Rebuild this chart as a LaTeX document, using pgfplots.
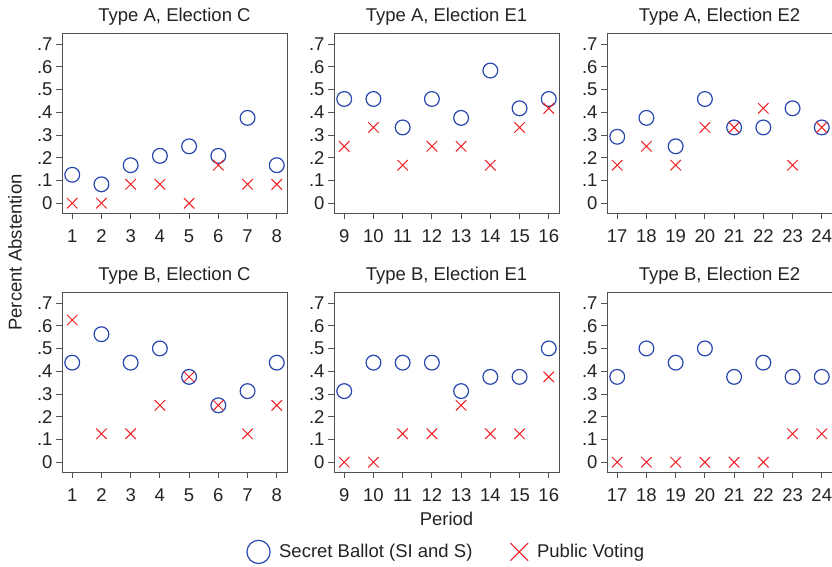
\documentclass[border=0pt]{standalone}
\usepackage{pgfplots}
\usepackage{pgfplotstable}
\pgfplotsset{compat=1.18}
\usepackage{fontspec}
\setmainfont{Liberation Sans}
\definecolor{sb}{RGB}{40,70,175}
\definecolor{pv}{RGB}{240,30,35}
\definecolor{axc}{RGB}{80,80,80}
\definecolor{txt}{RGB}{35,35,35}

\pgfplotstableread{
p secret public
1 0.125 0
2 0.083 0
3 0.167 0.083
4 0.208 0.083
5 0.250 0
6 0.208 0.167
7 0.375 0.083
8 0.167 0.083
}\tAC
\pgfplotstableread{
p secret public
9  0.458 0.250
10 0.458 0.333
11 0.333 0.167
12 0.458 0.250
13 0.375 0.250
14 0.583 0.167
15 0.417 0.333
16 0.458 0.417
}\tAE
\pgfplotstableread{
p secret public
17 0.292 0.167
18 0.375 0.250
19 0.250 0.167
20 0.458 0.333
21 0.333 0.333
22 0.333 0.417
23 0.417 0.167
24 0.333 0.333
}\tAF
\pgfplotstableread{
p secret public
1 0.4375 0.625
2 0.5625 0.125
3 0.4375 0.125
4 0.5000 0.250
5 0.3750 0.375
6 0.2500 0.250
7 0.3125 0.125
8 0.4375 0.250
}\tBC
\pgfplotstableread{
p secret public
9  0.3125 0
10 0.4375 0
11 0.4375 0.125
12 0.4375 0.125
13 0.3125 0.250
14 0.3750 0.125
15 0.3750 0.125
16 0.5000 0.375
}\tBE
\pgfplotstableread{
p secret public
17 0.3750 0
18 0.5000 0
19 0.4375 0
20 0.5000 0
21 0.3750 0
22 0.4375 0
23 0.3750 0.125
24 0.3750 0.125
}\tBF

\newcommand{\tf}{\fontsize{18.5bp}{21bp}\selectfont}

\pgfplotsset{
  panel/.style={
    scale only axis, width=225bp, height=180bp,
    anchor=south west,
    ymin=-0.043, ymax=0.748,
    ytick={0,0.1,0.2,0.3,0.4,0.5,0.6,0.7},
    yticklabels={0,.1,.2,.3,.4,.5,.6,.7},
    tick align=outside, major tick length=6bp,
    xtick pos=bottom, ytick pos=left,
    axis line style={axc, line width=0.8bp},
    every tick/.style={axc, line width=0.8bp},
    tick label style={font=\tf, text=txt},
    xticklabel style={yshift=-7bp},
    /pgf/number format/assume math mode=true,
    title style={at={(0.5,1)}, anchor=base, yshift=6bp, font=\tf, text=txt},
    clip=false,
  },
  sbs/.style={only marks, mark=o, mark size=7.4bp, sb, mark options={line width=1.2bp},
    legend image code/.code={\draw[sb, line width=1.3bp, mark=o, mark size=11.6bp] plot coordinates {(12bp,0bp)};}},
  pvs/.style={only marks, mark=x, mark size=7.4bp, pv, mark options={line width=1bp},
    legend image code/.code={\draw[pv, line width=1.2bp, mark=x, mark size=12.5bp] plot coordinates {(9bp,0bp)};}},
}

\begin{document}
\begin{tikzpicture}
\path[use as bounding box] (0,0) rectangle (832bp,567bp);

\begin{axis}[panel, at={(62bp,354bp)}, title={Type A, Election C},
  xmin=0.65, xmax=8.35, xtick={1,2,3,4,5,6,7,8}]
\addplot[sbs] table[x=p, y=secret] {\tAC};
\addplot[pvs] table[x=p, y=public] {\tAC};
\end{axis}

\begin{axis}[panel, at={(334bp,354bp)}, title={Type A, Election E1},
  xmin=8.65, xmax=16.35, xtick={9,10,11,12,13,14,15,16}]
\addplot[sbs] table[x=p, y=secret] {\tAE};
\addplot[pvs] table[x=p, y=public] {\tAE};
\end{axis}

\begin{axis}[panel, at={(607bp,354bp)}, title={Type A, Election E2},
  xmin=16.65, xmax=24.35, xtick={17,18,19,20,21,22,23,24}]
\addplot[sbs] table[x=p, y=secret] {\tAF};
\addplot[pvs] table[x=p, y=public] {\tAF};
\end{axis}

\begin{axis}[panel, at={(62bp,95bp)}, title={Type B, Election C},
  xmin=0.65, xmax=8.35, xtick={1,2,3,4,5,6,7,8}]
\addplot[sbs] table[x=p, y=secret] {\tBC};
\addplot[pvs] table[x=p, y=public] {\tBC};
\end{axis}

\begin{axis}[panel, at={(334bp,95bp)}, title={Type B, Election E1},
  xmin=8.65, xmax=16.35, xtick={9,10,11,12,13,14,15,16},
  legend style={at={(0.5,-0.444)}, anchor=center, draw=none, fill=none,
    legend columns=2, font=\tf, text=txt,
    /tikz/every odd column/.append style={column sep=7bp},
    /tikz/every even column/.append style={column sep=36bp}},
  legend cell align=left]
\addplot[sbs] table[x=p, y=secret] {\tBE};
\addlegendentry{Secret Ballot (SI and S)}
\addplot[pvs] table[x=p, y=public] {\tBE};
\addlegendentry{Public Voting}
\end{axis}

\begin{axis}[panel, at={(607bp,95bp)}, title={Type B, Election E2},
  xmin=16.65, xmax=24.35, xtick={17,18,19,20,21,22,23,24}]
\addplot[sbs] table[x=p, y=secret] {\tBF};
\addplot[pvs] table[x=p, y=public] {\tBF};
\end{axis}

\node[font=\tf, text=txt, anchor=base] at (446.5bp,41bp) {Period};
\node[font=\tf, text=txt, anchor=base, rotate=90] at (21.5bp,314.5bp) {Percent Abstention};
\end{tikzpicture}
\end{document}
